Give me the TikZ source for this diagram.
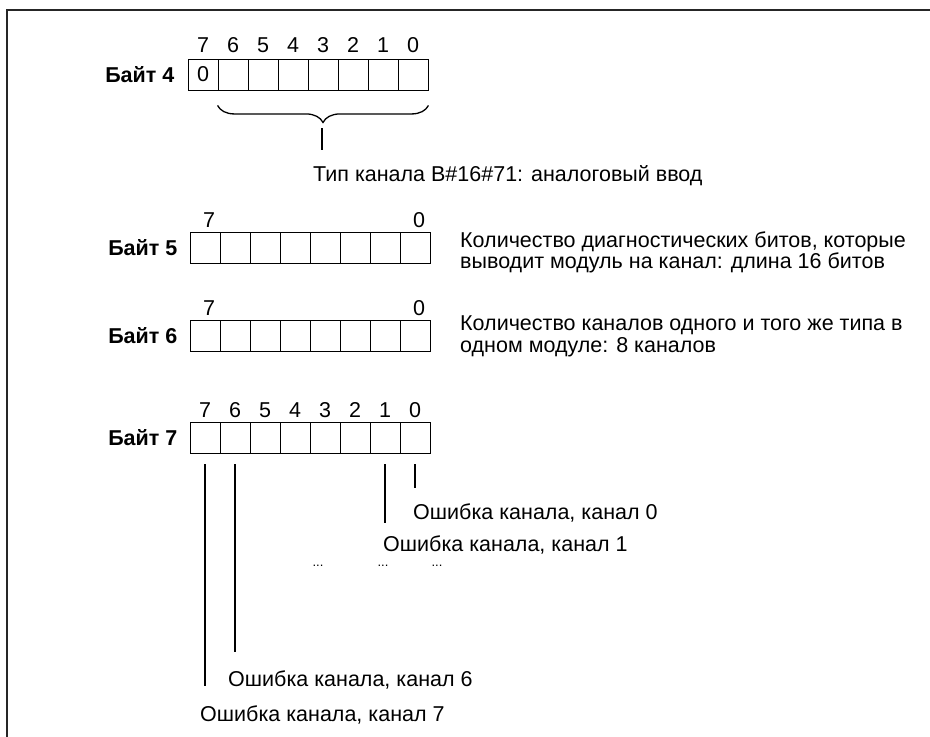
\documentclass[tikz,border=0pt]{standalone}
\usepackage{fontspec}
\setmainfont{Liberation Sans}
\usetikzlibrary{positioning,decorations.pathreplacing}

\begin{document}
\begin{tikzpicture}[
  x=1pt, y=-1pt,
  font=\fontsize{21.5}{21.5}\selectfont,
  cell/.style={draw=black, rectangle, minimum width=30pt, minimum height=31pt,
               inner sep=0pt, line width=0.9pt},
  bytelbl/.style={font=\fontsize{21.5}{21.5}\selectfont\bfseries, inner sep=0pt},
  bitnum/.style={anchor=base, inner sep=0pt},
  note/.style={anchor=west, align=left, inner sep=0pt},
  tick/.style={line width=1.4pt},
  dotlbl/.style={font=\fontsize{13}{13}\selectfont, inner sep=0pt},
  bracket/.style={decorate, decoration={brace, mirror, amplitude=17pt}, line width=1.3pt},
]
  \useasboundingbox (0,0) rectangle (930,737);
  \draw[line width=1.2pt, black!85] (7,737) -- (7,10) -- (930,10);

  \foreach \b/\l/\t in {4/188/59, 5/190/232, 6/190/320, 7/190/422}
    \foreach \k in {0,...,7}
      \node[cell] (b\b-\k) at ({\l+15+30*(7-\k)}, {\t+15.5}) {};

  \node (zero) at (b4-7) {0};
  \foreach \k in {0,...,7} {
    \node[bitnum] (n4-\k) at ([yshift=6pt]b4-\k.north) {\k};
    \node[bitnum] (n7-\k) at ([yshift=4pt]b7-\k.north) {\k};
  }
  \node[bitnum] (n5-7) at ([xshift=4pt, yshift=4pt]b5-7.north) {7};
  \node[bitnum] (n5-0) at ([xshift=4pt, yshift=4pt]b5-0.north) {0};
  \node[bitnum] (n6-7) at ([xshift=4pt, yshift=4pt]b6-7.north) {7};
  \node[bitnum] (n6-0) at ([xshift=4pt, yshift=4pt]b6-0.north) {0};

  \node[bytelbl, left=13pt of b4-7] (lbl4) {Байт 4};
  \node[bytelbl, left=12pt of b5-7] (lbl5) {Байт 5};
  \node[bytelbl, left=12pt of b6-7] (lbl6) {Байт 6};
  \node[bytelbl, left=12pt of b7-7] (lbl7) {Байт 7};

  \draw[bracket] ([yshift=-15pt]b4-6.south west) -- ([yshift=-15pt]b4-0.south east);
  \coordinate (tipa) at (322,128);
  \coordinate (tipb) at (322,150);
  \draw[tick] (tipa) -- (tipb);
  \node[note] (typetxt) at (313,176) {Тип канала B\#16\#71: аналоговый ввод};

  \node[note] (note5) at (460,252.5) {Количество диагностических битов, которые\\выводит модуль на канал: длина 16 битов};
  \node[note] (note6) at (460,336.5) {Количество каналов одного и того же типа в\\одном модуле: 8 каналов};

  \coordinate (e0) at (415,488);
  \coordinate (e1) at (385,523);
  \coordinate (e6) at (235,652);
  \coordinate (e7) at (205,686);
  \draw[tick] ([yshift=-11pt]b7-0.south) -- (e0);
  \draw[tick] ([yshift=-11pt]b7-1.south) -- (e1);
  \draw[tick] ([yshift=-11pt]b7-6.south) -- (e6);
  \draw[tick] ([yshift=-11pt]b7-7.south) -- (e7);

  \node[note] (err0) at (413,513) {Ошибка канала, канал 0};
  \node[note] (err1) at (383,545) {Ошибка канала, канал 1};
  \node[dotlbl] (dotsa) at (318,566) {...};
  \node[dotlbl] (dotsb) at (383,566) {...};
  \node[dotlbl] (dotsc) at (437,566) {...};
  \node[note] (err6) at (228,680) {Ошибка канала, канал 6};
  \node[note] (err7) at (200,715) {Ошибка канала, канал 7};
\end{tikzpicture}
\end{document}
